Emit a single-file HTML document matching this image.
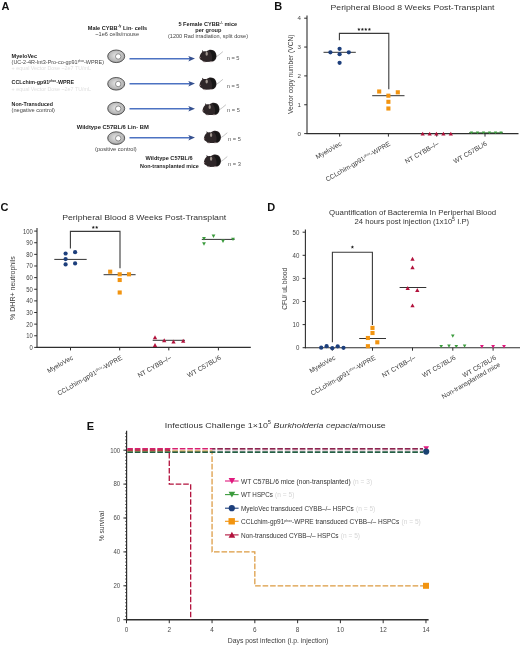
<!DOCTYPE html><html><head><meta charset="utf-8"><title>Figure</title><style>html,body{margin:0;padding:0;background:#fff;width:520px;height:646px;overflow:hidden}svg{display:block;will-change:transform}text{font-family:"Liberation Sans",sans-serif}</style></head><body>
<svg width="520" height="646" viewBox="0 0 520 646">
<rect width="520" height="646" fill="#fff"/>
<defs>
<radialGradient id="cellg" cx="0.5" cy="0.45" r="0.6">
<stop offset="0" stop-color="#e8e8e8"/><stop offset="0.7" stop-color="#b8b8b8"/><stop offset="1" stop-color="#8a8a8a"/>
</radialGradient>

</defs>
<text x="1.50" y="9.80" font-size="11" text-anchor="start" font-weight="bold" fill="#111" >A</text>
<text x="117.50" y="29.50" font-size="5.6" text-anchor="middle" font-weight="bold" fill="#222" >Male CYBB<tspan font-size="3.2" dy="-2.2">-/y</tspan><tspan dy="2.2"> Lin- cells</tspan></text>
<text x="117.20" y="35.60" font-size="5.6" text-anchor="middle" fill="#444" >~1e6 cells/mouse</text>
<text x="207.80" y="26.10" font-size="5.6" text-anchor="middle" font-weight="bold" fill="#222" >5 Female CYBB<tspan font-size="3.2" dy="-2.2">-/-</tspan><tspan dy="2.2"> mice</tspan></text>
<text x="208.40" y="31.60" font-size="5.6" text-anchor="middle" font-weight="bold" fill="#222" >per group</text>
<text x="208.00" y="38.40" font-size="5.6" text-anchor="middle" fill="#444" textLength="80" lengthAdjust="spacingAndGlyphs" >(1200 Rad irradiation, split dose)</text>
<text x="11.60" y="57.60" font-size="5.6" text-anchor="start" font-weight="bold" fill="#222" textLength="25.4" lengthAdjust="spacingAndGlyphs" >MyeloVec</text>
<text x="11.60" y="63.60" font-size="5.6" text-anchor="start" fill="#444" textLength="92.4" lengthAdjust="spacingAndGlyphs" >(UC-2-4R-Int3-Pro-co-gp91<tspan font-size="3" dy="-2">phox</tspan><tspan dy="2">-WPRE)</tspan></text>
<text x="11.60" y="70.20" font-size="5.6" text-anchor="start" fill="#e0e0e0" textLength="79.4" lengthAdjust="spacingAndGlyphs" >+ equal Vector Dose ~2e7 TU/mL</text>
<text x="11.60" y="84.40" font-size="5.6" text-anchor="start" font-weight="bold" fill="#222" textLength="62.4" lengthAdjust="spacingAndGlyphs" >CCLchim-gp91<tspan font-size="3" dy="-2">phox</tspan><tspan dy="2">-WPRE</tspan></text>
<text x="11.60" y="90.90" font-size="5.6" text-anchor="start" fill="#e0e0e0" textLength="79.4" lengthAdjust="spacingAndGlyphs" >+ equal Vector Dose ~2e7 TU/mL</text>
<text x="11.60" y="106.20" font-size="5.6" text-anchor="start" font-weight="bold" fill="#222" textLength="41.4" lengthAdjust="spacingAndGlyphs" >Non-Transduced</text>
<text x="11.60" y="112.20" font-size="5.6" text-anchor="start" fill="#444" textLength="43.4" lengthAdjust="spacingAndGlyphs" >(negative control)</text>
<text x="76.70" y="129.10" font-size="5.6" text-anchor="start" font-weight="bold" fill="#222" textLength="72.1" lengthAdjust="spacingAndGlyphs" >Wildtype C57BL/6 Lin- BM</text>
<text x="95.00" y="150.90" font-size="5.6" text-anchor="start" fill="#444" textLength="41.7" lengthAdjust="spacingAndGlyphs" >(positive control)</text>
<text x="145.60" y="160.40" font-size="5.6" text-anchor="start" font-weight="bold" fill="#222" textLength="47.1" lengthAdjust="spacingAndGlyphs" >Wildtype C57BL/6</text>
<text x="140.00" y="167.60" font-size="5.6" text-anchor="start" font-weight="bold" fill="#222" textLength="58.7" lengthAdjust="spacingAndGlyphs" >Non-transplanted mice</text>
<ellipse cx="116.2" cy="56.3" rx="8.5" ry="6.3" fill="url(#cellg)" stroke="#4a4a4a" stroke-width="0.9"/>
<circle cx="118.2" cy="56.5" r="2.7" fill="#fff" stroke="#666" stroke-width="0.7"/>
<line x1="129.50" y1="58.70" x2="190.00" y2="58.70" stroke="#4d72c2" stroke-width="1.5" />
<polygon points="188.3,55.90 195.0,58.60 188.3,61.50 189.8,58.70" fill="#35508f"/>
<ellipse cx="116.2" cy="83.8" rx="8.5" ry="6.3" fill="url(#cellg)" stroke="#4a4a4a" stroke-width="0.9"/>
<circle cx="118.2" cy="84.0" r="2.7" fill="#fff" stroke="#666" stroke-width="0.7"/>
<line x1="129.50" y1="83.70" x2="190.00" y2="83.70" stroke="#4d72c2" stroke-width="1.5" />
<polygon points="188.3,80.90 195.0,83.60 188.3,86.50 189.8,83.70" fill="#35508f"/>
<ellipse cx="116.2" cy="108.5" rx="8.5" ry="6.3" fill="url(#cellg)" stroke="#4a4a4a" stroke-width="0.9"/>
<circle cx="118.2" cy="108.7" r="2.7" fill="#fff" stroke="#666" stroke-width="0.7"/>
<line x1="129.50" y1="108.80" x2="190.00" y2="108.80" stroke="#4d72c2" stroke-width="1.5" />
<polygon points="188.3,106.00 195.0,108.70 188.3,111.60 189.8,108.80" fill="#35508f"/>
<ellipse cx="116.2" cy="138.1" rx="8.5" ry="6.3" fill="url(#cellg)" stroke="#4a4a4a" stroke-width="0.9"/>
<circle cx="118.2" cy="138.29999999999998" r="2.7" fill="#fff" stroke="#666" stroke-width="0.7"/>
<line x1="129.50" y1="137.70" x2="190.00" y2="137.70" stroke="#4d72c2" stroke-width="1.5" />
<polygon points="188.3,134.90 195.0,137.60 188.3,140.50 189.8,137.70" fill="#35508f"/>
<g transform="translate(199.0,49.5)">
<path d="M16.8,7.6 C19,6.2 21.4,4.4 23.6,2.4" stroke="#c4c4c4" stroke-width="1" fill="none" stroke-linecap="round"/>
<path d="M0.5,8 C0.7,5.8 1.9,3.4 3.3,2.4 L3.0,0.6 L4.7,1.9 C5.6,1.6 6.6,1.6 7.4,1.9 C8.6,0.7 10.2,0.2 11.8,0.2 C15.2,0.2 17.5,3 17.5,6.6 C17.5,9.8 15.6,12 12.6,12.3 L5.6,12.5 C4.4,12.5 3.6,11.8 3.2,11.1 C1.8,10.5 0.5,9.6 0.5,8 Z" fill="#2e2628"/>
<path d="M10,1.0 C13.5,0 17,2.6 17,6.6 C17,9.6 15.2,11.5 12.6,11.8 C13.8,8.6 13.4,4.2 10,1.0 Z" fill="#171616"/>
<ellipse cx="7.7" cy="4.3" rx="1.15" ry="2.0" fill="#a0968f"/>
<ellipse cx="1.1" cy="8.2" rx="0.7" ry="0.6" fill="#9a8080"/>
<path d="M4.4,12.3 L6.6,12.6 M10.8,12.4 L13.2,12.2" stroke="#c8b8b8" stroke-width="0.7"/>
</g>
<text x="226.70" y="60.40" font-size="5.6" text-anchor="start" fill="#555" textLength="12.8" lengthAdjust="spacingAndGlyphs" >n = 5</text>
<g transform="translate(199.0,77.2)">
<path d="M16.8,7.6 C19,6.2 21.4,4.4 23.6,2.4" stroke="#c4c4c4" stroke-width="1" fill="none" stroke-linecap="round"/>
<path d="M0.5,8 C0.7,5.8 1.9,3.4 3.3,2.4 L3.0,0.6 L4.7,1.9 C5.6,1.6 6.6,1.6 7.4,1.9 C8.6,0.7 10.2,0.2 11.8,0.2 C15.2,0.2 17.5,3 17.5,6.6 C17.5,9.8 15.6,12 12.6,12.3 L5.6,12.5 C4.4,12.5 3.6,11.8 3.2,11.1 C1.8,10.5 0.5,9.6 0.5,8 Z" fill="#2e2628"/>
<path d="M10,1.0 C13.5,0 17,2.6 17,6.6 C17,9.6 15.2,11.5 12.6,11.8 C13.8,8.6 13.4,4.2 10,1.0 Z" fill="#171616"/>
<ellipse cx="7.7" cy="4.3" rx="1.15" ry="2.0" fill="#a0968f"/>
<ellipse cx="1.1" cy="8.2" rx="0.7" ry="0.6" fill="#9a8080"/>
<path d="M4.4,12.3 L6.6,12.6 M10.8,12.4 L13.2,12.2" stroke="#c8b8b8" stroke-width="0.7"/>
</g>
<text x="226.70" y="88.10" font-size="5.6" text-anchor="start" fill="#555" textLength="12.8" lengthAdjust="spacingAndGlyphs" >n = 5</text>
<g transform="translate(202.0,102.6)">
<path d="M16.8,7.6 C19,6.2 21.4,4.4 23.6,2.4" stroke="#c4c4c4" stroke-width="1" fill="none" stroke-linecap="round"/>
<path d="M0.5,8 C0.7,5.8 1.9,3.4 3.3,2.4 L3.0,0.6 L4.7,1.9 C5.6,1.6 6.6,1.6 7.4,1.9 C8.6,0.7 10.2,0.2 11.8,0.2 C15.2,0.2 17.5,3 17.5,6.6 C17.5,9.8 15.6,12 12.6,12.3 L5.6,12.5 C4.4,12.5 3.6,11.8 3.2,11.1 C1.8,10.5 0.5,9.6 0.5,8 Z" fill="#2e2628"/>
<path d="M10,1.0 C13.5,0 17,2.6 17,6.6 C17,9.6 15.2,11.5 12.6,11.8 C13.8,8.6 13.4,4.2 10,1.0 Z" fill="#171616"/>
<ellipse cx="7.7" cy="4.3" rx="1.15" ry="2.0" fill="#a0968f"/>
<ellipse cx="1.1" cy="8.2" rx="0.7" ry="0.6" fill="#9a8080"/>
<path d="M4.4,12.3 L6.6,12.6 M10.8,12.4 L13.2,12.2" stroke="#c8b8b8" stroke-width="0.7"/>
</g>
<text x="227.00" y="112.40" font-size="5.6" text-anchor="start" fill="#555" textLength="12.8" lengthAdjust="spacingAndGlyphs" >n = 5</text>
<g transform="translate(203.4,130.6)">
<path d="M16.8,7.6 C19,6.2 21.4,4.4 23.6,2.4" stroke="#c4c4c4" stroke-width="1" fill="none" stroke-linecap="round"/>
<path d="M0.5,8 C0.7,5.8 1.9,3.4 3.3,2.4 L3.0,0.6 L4.7,1.9 C5.6,1.6 6.6,1.6 7.4,1.9 C8.6,0.7 10.2,0.2 11.8,0.2 C15.2,0.2 17.5,3 17.5,6.6 C17.5,9.8 15.6,12 12.6,12.3 L5.6,12.5 C4.4,12.5 3.6,11.8 3.2,11.1 C1.8,10.5 0.5,9.6 0.5,8 Z" fill="#2e2628"/>
<path d="M10,1.0 C13.5,0 17,2.6 17,6.6 C17,9.6 15.2,11.5 12.6,11.8 C13.8,8.6 13.4,4.2 10,1.0 Z" fill="#171616"/>
<ellipse cx="7.7" cy="4.3" rx="1.15" ry="2.0" fill="#a0968f"/>
<ellipse cx="1.1" cy="8.2" rx="0.7" ry="0.6" fill="#9a8080"/>
<path d="M4.4,12.3 L6.6,12.6 M10.8,12.4 L13.2,12.2" stroke="#c8b8b8" stroke-width="0.7"/>
</g>
<text x="228.00" y="140.90" font-size="5.6" text-anchor="start" fill="#555" textLength="12.8" lengthAdjust="spacingAndGlyphs" >n = 5</text>
<g transform="translate(203.4,154.4)">
<path d="M16.8,7.6 C19,6.2 21.4,4.4 23.6,2.4" stroke="#c4c4c4" stroke-width="1" fill="none" stroke-linecap="round"/>
<path d="M0.5,8 C0.7,5.8 1.9,3.4 3.3,2.4 L3.0,0.6 L4.7,1.9 C5.6,1.6 6.6,1.6 7.4,1.9 C8.6,0.7 10.2,0.2 11.8,0.2 C15.2,0.2 17.5,3 17.5,6.6 C17.5,9.8 15.6,12 12.6,12.3 L5.6,12.5 C4.4,12.5 3.6,11.8 3.2,11.1 C1.8,10.5 0.5,9.6 0.5,8 Z" fill="#2e2628"/>
<path d="M10,1.0 C13.5,0 17,2.6 17,6.6 C17,9.6 15.2,11.5 12.6,11.8 C13.8,8.6 13.4,4.2 10,1.0 Z" fill="#171616"/>
<ellipse cx="7.7" cy="4.3" rx="1.15" ry="2.0" fill="#a0968f"/>
<ellipse cx="1.1" cy="8.2" rx="0.7" ry="0.6" fill="#9a8080"/>
<path d="M4.4,12.3 L6.6,12.6 M10.8,12.4 L13.2,12.2" stroke="#c8b8b8" stroke-width="0.7"/>
</g>
<text x="228.00" y="165.70" font-size="5.6" text-anchor="start" fill="#555" textLength="12.8" lengthAdjust="spacingAndGlyphs" >n = 3</text>
<text x="274.20" y="10.20" font-size="11" text-anchor="start" font-weight="bold" fill="#111" >B</text>
<text x="412.50" y="10.30" font-size="8" text-anchor="middle" fill="#333" textLength="164" lengthAdjust="spacingAndGlyphs" >Peripheral Blood 8 Weeks Post-Transplant</text>
<line x1="307.00" y1="15.40" x2="307.00" y2="134.10" stroke="#2e2e2e" stroke-width="1.1" />
<line x1="304.20" y1="133.60" x2="307.00" y2="133.60" stroke="#2e2e2e" stroke-width="1" />
<text x="300.90" y="135.80" font-size="6.2" text-anchor="end" fill="#4a4a4a" >0</text>
<line x1="304.20" y1="104.75" x2="307.00" y2="104.75" stroke="#2e2e2e" stroke-width="1" />
<text x="300.90" y="106.95" font-size="6.2" text-anchor="end" fill="#4a4a4a" >1</text>
<line x1="304.20" y1="75.90" x2="307.00" y2="75.90" stroke="#2e2e2e" stroke-width="1" />
<text x="300.90" y="78.10" font-size="6.2" text-anchor="end" fill="#4a4a4a" >2</text>
<line x1="304.20" y1="47.05" x2="307.00" y2="47.05" stroke="#2e2e2e" stroke-width="1" />
<text x="300.90" y="49.25" font-size="6.2" text-anchor="end" fill="#4a4a4a" >3</text>
<line x1="304.20" y1="18.20" x2="307.00" y2="18.20" stroke="#2e2e2e" stroke-width="1" />
<text x="300.90" y="20.40" font-size="6.2" text-anchor="end" fill="#4a4a4a" >4</text>
<line x1="306.50" y1="133.60" x2="518.50" y2="133.60" stroke="#2e2e2e" stroke-width="1.1" />
<line x1="339.60" y1="133.60" x2="339.60" y2="136.60" stroke="#2e2e2e" stroke-width="1" />
<line x1="388.40" y1="133.60" x2="388.40" y2="136.60" stroke="#2e2e2e" stroke-width="1" />
<line x1="436.70" y1="133.60" x2="436.70" y2="136.60" stroke="#2e2e2e" stroke-width="1" />
<line x1="485.00" y1="133.60" x2="485.00" y2="136.60" stroke="#2e2e2e" stroke-width="1" />
<text x="0" y="0" font-size="7.6" text-anchor="middle" fill="#3c3c3c" transform="translate(293.40,74.25) rotate(-90)" textLength="79.5" lengthAdjust="spacingAndGlyphs">Vector copy number (VCN)</text>
<path d="M339.4,40.2 V33.4 H388.8 V89.2" fill="none" stroke="#3a3a3a" stroke-width="1.1"/>
<polygon points="358.90,27.70 359.35,28.78 360.52,28.87 359.63,29.64 359.90,30.78 358.90,30.16 357.90,30.78 358.17,29.64 357.28,28.87 358.45,28.78" fill="#222"/>
<polygon points="362.40,27.70 362.85,28.78 364.02,28.87 363.13,29.64 363.40,30.78 362.40,30.16 361.40,30.78 361.67,29.64 360.78,28.87 361.95,28.78" fill="#222"/>
<polygon points="365.80,27.70 366.25,28.78 367.42,28.87 366.53,29.64 366.80,30.78 365.80,30.16 364.80,30.78 365.07,29.64 364.18,28.87 365.35,28.78" fill="#222"/>
<polygon points="369.40,27.70 369.85,28.78 371.02,28.87 370.13,29.64 370.40,30.78 369.40,30.16 368.40,30.78 368.67,29.64 367.78,28.87 368.95,28.78" fill="#222"/>
<line x1="323.50" y1="52.30" x2="355.80" y2="52.30" stroke="#333" stroke-width="1" />
<circle cx="330.40" cy="52.30" r="2.1" fill="#1d3f7c"/>
<circle cx="339.60" cy="48.80" r="2.1" fill="#1d3f7c"/>
<circle cx="339.60" cy="54.20" r="2.1" fill="#1d3f7c"/>
<circle cx="348.80" cy="52.30" r="2.1" fill="#1d3f7c"/>
<circle cx="339.60" cy="62.80" r="2.1" fill="#1d3f7c"/>
<line x1="372.20" y1="95.70" x2="404.50" y2="95.70" stroke="#333" stroke-width="1" />
<rect x="377.15" y="89.45" width="4.1" height="4.1" fill="#f29410"/>
<rect x="395.75" y="90.25" width="4.1" height="4.1" fill="#f29410"/>
<rect x="386.35" y="93.65" width="4.1" height="4.1" fill="#f29410"/>
<rect x="386.35" y="99.75" width="4.1" height="4.1" fill="#f29410"/>
<rect x="386.35" y="106.45" width="4.1" height="4.1" fill="#f29410"/>
<polygon points="420.60,135.49 424.80,135.49 422.70,131.71" fill="#b2123c"/>
<polygon points="427.60,135.49 431.80,135.49 429.70,131.71" fill="#b2123c"/>
<polygon points="434.30,135.49 438.50,135.49 436.40,131.71" fill="#b2123c"/>
<polygon points="441.30,135.49 445.50,135.49 443.40,131.71" fill="#b2123c"/>
<polygon points="448.70,135.49 452.90,135.49 450.80,131.71" fill="#b2123c"/>
<line x1="469.00" y1="132.60" x2="503.00" y2="132.60" stroke="#3a7a3a" stroke-width="0.8" />
<polygon points="469.90,131.46 473.10,131.46 471.50,134.34" fill="#3b9b3d"/>
<polygon points="475.90,131.46 479.10,131.46 477.50,134.34" fill="#3b9b3d"/>
<polygon points="481.90,131.46 485.10,131.46 483.50,134.34" fill="#3b9b3d"/>
<polygon points="487.90,131.46 491.10,131.46 489.50,134.34" fill="#3b9b3d"/>
<polygon points="493.90,131.46 497.10,131.46 495.50,134.34" fill="#3b9b3d"/>
<polygon points="499.40,131.46 502.60,131.46 501.00,134.34" fill="#3b9b3d"/>
<text x="0" y="0" font-size="6.6" text-anchor="end" fill="#3a3a3a" transform="translate(342.10,145.00) rotate(-30)">MyeloVec</text>
<text x="0" y="0" font-size="6.6" text-anchor="end" fill="#3a3a3a" transform="translate(390.90,145.00) rotate(-30)">CCLchim-gp91<tspan font-size="3.5" dy="-2.3">phox</tspan><tspan dy="2.3">-WPRE</tspan></text>
<text x="0" y="0" font-size="6.6" text-anchor="end" fill="#3a3a3a" transform="translate(439.20,145.00) rotate(-30)">NT CYBB&#8211;/&#8211;</text>
<text x="0" y="0" font-size="6.6" text-anchor="end" fill="#3a3a3a" transform="translate(487.50,145.00) rotate(-30)">WT C57BL/6</text>
<text x="0.40" y="211.30" font-size="11" text-anchor="start" font-weight="bold" fill="#111" >C</text>
<text x="144.20" y="219.60" font-size="8" text-anchor="middle" fill="#333" textLength="164" lengthAdjust="spacingAndGlyphs" >Peripheral Blood 8 Weeks Post-Transplant</text>
<line x1="37.00" y1="228.00" x2="37.00" y2="347.90" stroke="#2e2e2e" stroke-width="1.1" />
<line x1="34.20" y1="347.40" x2="37.00" y2="347.40" stroke="#2e2e2e" stroke-width="1" />
<text x="32.80" y="349.80" font-size="6.6" text-anchor="end" fill="#444" textLength="3.27" lengthAdjust="spacingAndGlyphs" >0</text>
<line x1="34.20" y1="335.77" x2="37.00" y2="335.77" stroke="#2e2e2e" stroke-width="1" />
<text x="32.80" y="338.17" font-size="6.6" text-anchor="end" fill="#444" textLength="6.54" lengthAdjust="spacingAndGlyphs" >10</text>
<line x1="34.20" y1="324.14" x2="37.00" y2="324.14" stroke="#2e2e2e" stroke-width="1" />
<text x="32.80" y="326.54" font-size="6.6" text-anchor="end" fill="#444" textLength="6.54" lengthAdjust="spacingAndGlyphs" >20</text>
<line x1="34.20" y1="312.51" x2="37.00" y2="312.51" stroke="#2e2e2e" stroke-width="1" />
<text x="32.80" y="314.91" font-size="6.6" text-anchor="end" fill="#444" textLength="6.54" lengthAdjust="spacingAndGlyphs" >30</text>
<line x1="34.20" y1="300.88" x2="37.00" y2="300.88" stroke="#2e2e2e" stroke-width="1" />
<text x="32.80" y="303.28" font-size="6.6" text-anchor="end" fill="#444" textLength="6.54" lengthAdjust="spacingAndGlyphs" >40</text>
<line x1="34.20" y1="289.25" x2="37.00" y2="289.25" stroke="#2e2e2e" stroke-width="1" />
<text x="32.80" y="291.65" font-size="6.6" text-anchor="end" fill="#444" textLength="6.54" lengthAdjust="spacingAndGlyphs" >50</text>
<line x1="34.20" y1="277.62" x2="37.00" y2="277.62" stroke="#2e2e2e" stroke-width="1" />
<text x="32.80" y="280.02" font-size="6.6" text-anchor="end" fill="#444" textLength="6.54" lengthAdjust="spacingAndGlyphs" >60</text>
<line x1="34.20" y1="265.99" x2="37.00" y2="265.99" stroke="#2e2e2e" stroke-width="1" />
<text x="32.80" y="268.39" font-size="6.6" text-anchor="end" fill="#444" textLength="6.54" lengthAdjust="spacingAndGlyphs" >70</text>
<line x1="34.20" y1="254.36" x2="37.00" y2="254.36" stroke="#2e2e2e" stroke-width="1" />
<text x="32.80" y="256.76" font-size="6.6" text-anchor="end" fill="#444" textLength="6.54" lengthAdjust="spacingAndGlyphs" >80</text>
<line x1="34.20" y1="242.73" x2="37.00" y2="242.73" stroke="#2e2e2e" stroke-width="1" />
<text x="32.80" y="245.13" font-size="6.6" text-anchor="end" fill="#444" textLength="6.54" lengthAdjust="spacingAndGlyphs" >90</text>
<line x1="34.20" y1="231.10" x2="37.00" y2="231.10" stroke="#2e2e2e" stroke-width="1" />
<text x="32.80" y="233.50" font-size="6.6" text-anchor="end" fill="#444" textLength="9.81" lengthAdjust="spacingAndGlyphs" >100</text>
<line x1="36.50" y1="347.40" x2="250.80" y2="347.40" stroke="#2e2e2e" stroke-width="1.1" />
<line x1="70.50" y1="347.40" x2="70.50" y2="350.40" stroke="#2e2e2e" stroke-width="1" />
<line x1="119.70" y1="347.40" x2="119.70" y2="350.40" stroke="#2e2e2e" stroke-width="1" />
<line x1="168.80" y1="347.40" x2="168.80" y2="350.40" stroke="#2e2e2e" stroke-width="1" />
<line x1="218.40" y1="347.40" x2="218.40" y2="350.40" stroke="#2e2e2e" stroke-width="1" />
<text x="0" y="0" font-size="7.6" text-anchor="middle" fill="#3c3c3c" transform="translate(14.80,288.05) rotate(-90)" textLength="63.8" lengthAdjust="spacingAndGlyphs">% DHR+ neutrophils</text>
<path d="M70.4,248.4 V231.4 H120 V268.3" fill="none" stroke="#3a3a3a" stroke-width="1.1"/>
<polygon points="93.30,225.70 93.75,226.78 94.92,226.87 94.03,227.64 94.30,228.78 93.30,228.16 92.30,228.78 92.57,227.64 91.68,226.87 92.85,226.78" fill="#222"/>
<polygon points="96.70,225.70 97.15,226.78 98.32,226.87 97.43,227.64 97.70,228.78 96.70,228.16 95.70,228.78 95.97,227.64 95.08,226.87 96.25,226.78" fill="#222"/>
<line x1="54.30" y1="259.40" x2="86.70" y2="259.40" stroke="#333" stroke-width="1" />
<circle cx="65.60" cy="253.50" r="2.1" fill="#1d3f7c"/>
<circle cx="75.10" cy="252.20" r="2.1" fill="#1d3f7c"/>
<circle cx="65.60" cy="259.10" r="2.1" fill="#1d3f7c"/>
<circle cx="65.60" cy="264.40" r="2.1" fill="#1d3f7c"/>
<circle cx="75.10" cy="263.40" r="2.1" fill="#1d3f7c"/>
<line x1="103.60" y1="274.70" x2="135.60" y2="274.70" stroke="#333" stroke-width="1" />
<rect x="108.15" y="269.65" width="4.1" height="4.1" fill="#f29410"/>
<rect x="117.65" y="272.25" width="4.1" height="4.1" fill="#f29410"/>
<rect x="126.95" y="272.25" width="4.1" height="4.1" fill="#f29410"/>
<rect x="117.65" y="277.95" width="4.1" height="4.1" fill="#f29410"/>
<rect x="117.65" y="290.45" width="4.1" height="4.1" fill="#f29410"/>
<line x1="152.70" y1="340.30" x2="185.00" y2="340.30" stroke="#333" stroke-width="1" />
<polygon points="152.85,339.24 157.15,339.24 155.00,335.37" fill="#b2123c"/>
<polygon points="152.85,346.94 157.15,346.94 155.00,343.06" fill="#b2123c"/>
<polygon points="162.05,342.24 166.35,342.24 164.20,338.37" fill="#b2123c"/>
<polygon points="171.35,343.44 175.65,343.44 173.50,339.56" fill="#b2123c"/>
<polygon points="181.05,342.74 185.35,342.74 183.20,338.87" fill="#b2123c"/>
<line x1="201.80" y1="239.40" x2="234.60" y2="239.40" stroke="#333" stroke-width="1" />
<polygon points="202.10,237.09 205.90,237.09 204.00,240.51" fill="#3b9b3d"/>
<polygon points="211.60,234.49 215.40,234.49 213.50,237.91" fill="#3b9b3d"/>
<polygon points="202.10,242.29 205.90,242.29 204.00,245.71" fill="#3b9b3d"/>
<polygon points="221.10,239.59 224.90,239.59 223.00,243.01" fill="#3b9b3d"/>
<polygon points="231.10,237.69 234.90,237.69 233.00,241.11" fill="#3b9b3d"/>
<text x="0" y="0" font-size="6.6" text-anchor="end" fill="#3a3a3a" transform="translate(73.50,359.00) rotate(-30)">MyeloVec</text>
<text x="0" y="0" font-size="6.6" text-anchor="end" fill="#3a3a3a" transform="translate(122.70,359.00) rotate(-30)">CCLchim-gp91<tspan font-size="3.5" dy="-2.3">phox</tspan><tspan dy="2.3">-WPRE</tspan></text>
<text x="0" y="0" font-size="6.6" text-anchor="end" fill="#3a3a3a" transform="translate(171.80,359.00) rotate(-30)">NT CYBB&#8211;/&#8211;</text>
<text x="0" y="0" font-size="6.6" text-anchor="end" fill="#3a3a3a" transform="translate(221.40,359.00) rotate(-30)">WT C57BL/6</text>
<text x="267.30" y="211.30" font-size="11" text-anchor="start" font-weight="bold" fill="#111" >D</text>
<text x="412.60" y="215.00" font-size="7" text-anchor="middle" fill="#333" textLength="167" lengthAdjust="spacingAndGlyphs" >Quantification of Bacteremia In Periperhal Blood</text>
<text x="411.80" y="223.90" font-size="7" text-anchor="middle" fill="#333" textLength="114.5" lengthAdjust="spacingAndGlyphs" >24 hours post injection (1x10<tspan font-size="4.8" dy="-2.8">5</tspan><tspan dy="2.8"> I.P)</tspan></text>
<line x1="305.40" y1="229.60" x2="305.40" y2="348.20" stroke="#2e2e2e" stroke-width="1.1" />
<line x1="302.60" y1="347.70" x2="305.40" y2="347.70" stroke="#2e2e2e" stroke-width="1" />
<text x="299.40" y="350.10" font-size="6.6" text-anchor="end" fill="#444" textLength="3.4" lengthAdjust="spacingAndGlyphs" >0</text>
<line x1="302.60" y1="324.60" x2="305.40" y2="324.60" stroke="#2e2e2e" stroke-width="1" />
<text x="299.40" y="327.00" font-size="6.6" text-anchor="end" fill="#444" textLength="6.8" lengthAdjust="spacingAndGlyphs" >10</text>
<line x1="302.60" y1="301.50" x2="305.40" y2="301.50" stroke="#2e2e2e" stroke-width="1" />
<text x="299.40" y="303.90" font-size="6.6" text-anchor="end" fill="#444" textLength="6.8" lengthAdjust="spacingAndGlyphs" >20</text>
<line x1="302.60" y1="278.40" x2="305.40" y2="278.40" stroke="#2e2e2e" stroke-width="1" />
<text x="299.40" y="280.80" font-size="6.6" text-anchor="end" fill="#444" textLength="6.8" lengthAdjust="spacingAndGlyphs" >30</text>
<line x1="302.60" y1="255.30" x2="305.40" y2="255.30" stroke="#2e2e2e" stroke-width="1" />
<text x="299.40" y="257.70" font-size="6.6" text-anchor="end" fill="#444" textLength="6.8" lengthAdjust="spacingAndGlyphs" >40</text>
<line x1="302.60" y1="232.20" x2="305.40" y2="232.20" stroke="#2e2e2e" stroke-width="1" />
<text x="299.40" y="234.60" font-size="6.6" text-anchor="end" fill="#444" textLength="6.8" lengthAdjust="spacingAndGlyphs" >50</text>
<line x1="304.90" y1="347.70" x2="520.00" y2="347.70" stroke="#2e2e2e" stroke-width="1.1" />
<line x1="332.30" y1="347.70" x2="332.30" y2="350.70" stroke="#2e2e2e" stroke-width="1" />
<line x1="372.50" y1="347.70" x2="372.50" y2="350.70" stroke="#2e2e2e" stroke-width="1" />
<line x1="412.50" y1="347.70" x2="412.50" y2="350.70" stroke="#2e2e2e" stroke-width="1" />
<line x1="452.80" y1="347.70" x2="452.80" y2="350.70" stroke="#2e2e2e" stroke-width="1" />
<line x1="493.10" y1="347.70" x2="493.10" y2="350.70" stroke="#2e2e2e" stroke-width="1" />
<text x="0" y="0" font-size="7.6" text-anchor="middle" fill="#3c3c3c" transform="translate(286.60,288.85) rotate(-90)" textLength="42.0" lengthAdjust="spacingAndGlyphs">CFU/ uL blood</text>
<path d="M332.4,342.3 V252.3 H372.4 V325" fill="none" stroke="#3a3a3a" stroke-width="1.1"/>
<polygon points="352.40,245.30 352.88,246.44 354.11,246.54 353.17,247.35 353.46,248.56 352.40,247.91 351.34,248.56 351.63,247.35 350.69,246.54 351.92,246.44" fill="#222"/>
<circle cx="321.20" cy="347.70" r="2.1" fill="#1d3f7c"/>
<circle cx="326.60" cy="346.20" r="2.1" fill="#1d3f7c"/>
<circle cx="332.30" cy="348.20" r="2.1" fill="#1d3f7c"/>
<circle cx="337.70" cy="346.30" r="2.1" fill="#1d3f7c"/>
<circle cx="343.50" cy="347.80" r="2.1" fill="#1d3f7c"/>
<line x1="359.20" y1="338.50" x2="386.00" y2="338.50" stroke="#333" stroke-width="1" />
<rect x="370.45" y="325.85" width="4.1" height="4.1" fill="#f29410"/>
<rect x="370.45" y="330.95" width="4.1" height="4.1" fill="#f29410"/>
<rect x="365.85" y="335.95" width="4.1" height="4.1" fill="#f29410"/>
<rect x="375.25" y="340.25" width="4.1" height="4.1" fill="#f29410"/>
<rect x="365.85" y="344.15" width="4.1" height="4.1" fill="#f29410"/>
<line x1="399.60" y1="287.50" x2="426.30" y2="287.50" stroke="#333" stroke-width="1" />
<polygon points="410.35,260.63 414.65,260.63 412.50,256.76" fill="#b2123c"/>
<polygon points="410.35,269.24 414.65,269.24 412.50,265.37" fill="#b2123c"/>
<polygon points="405.55,289.94 409.85,289.94 407.70,286.06" fill="#b2123c"/>
<polygon points="415.15,291.94 419.45,291.94 417.30,288.06" fill="#b2123c"/>
<polygon points="410.35,307.33 414.65,307.33 412.50,303.46" fill="#b2123c"/>
<polygon points="451.00,334.48 454.60,334.48 452.80,337.72" fill="#3b9b3d"/>
<polygon points="439.40,344.98 443.00,344.98 441.20,348.22" fill="#3b9b3d"/>
<polygon points="447.20,344.58 450.80,344.58 449.00,347.82" fill="#3b9b3d"/>
<polygon points="454.50,344.98 458.10,344.98 456.30,348.22" fill="#3b9b3d"/>
<polygon points="462.80,344.58 466.40,344.58 464.60,347.82" fill="#3b9b3d"/>
<polygon points="480.00,345.09 483.80,345.09 481.90,348.51" fill="#e01a7e"/>
<polygon points="491.20,345.09 495.00,345.09 493.10,348.51" fill="#e01a7e"/>
<polygon points="502.10,345.09 505.90,345.09 504.00,348.51" fill="#e01a7e"/>
<text x="0" y="0" font-size="6.6" text-anchor="end" fill="#3a3a3a" transform="translate(335.80,359.00) rotate(-30)">MyeloVec</text>
<text x="0" y="0" font-size="6.6" text-anchor="end" fill="#3a3a3a" transform="translate(376.00,359.00) rotate(-30)">CCLchim-gp91<tspan font-size="3.5" dy="-2.3">phox</tspan><tspan dy="2.3">-WPRE</tspan></text>
<text x="0" y="0" font-size="6.6" text-anchor="end" fill="#3a3a3a" transform="translate(416.00,359.00) rotate(-30)">NT CYBB&#8211;/&#8211;</text>
<text x="0" y="0" font-size="6.6" text-anchor="end" fill="#3a3a3a" transform="translate(456.30,359.00) rotate(-30)">WT C57BL/6</text>
<text x="0" y="0" font-size="6.6" text-anchor="end" fill="#3a3a3a" transform="translate(496.60,359.00) rotate(-30)">WT C57BL/6</text>
<text x="0" y="0" font-size="6.6" text-anchor="end" fill="#3a3a3a" transform="translate(500.80,365.80) rotate(-30)">Non-transplanted mice</text>
<text x="86.70" y="429.80" font-size="11" text-anchor="start" font-weight="bold" fill="#111" >E</text>
<text x="164.80" y="427.60" font-size="8" text-anchor="start" fill="#333" textLength="221" lengthAdjust="spacingAndGlyphs" >Infectious Challenge 1&#215;10<tspan font-size="5.2" dy="-3.2">5</tspan><tspan dy="3.2"> </tspan><tspan font-style="italic">Burkholderia cepacia</tspan>/mouse</text>
<line x1="126.60" y1="430.80" x2="126.60" y2="620.40" stroke="#2e2e2e" stroke-width="1.2" />
<line x1="125.00" y1="619.70" x2="126.60" y2="619.70" stroke="#2e2e2e" stroke-width="0.7" />
<line x1="125.00" y1="616.31" x2="126.60" y2="616.31" stroke="#2e2e2e" stroke-width="0.7" />
<line x1="125.00" y1="612.92" x2="126.60" y2="612.92" stroke="#2e2e2e" stroke-width="0.7" />
<line x1="125.00" y1="609.53" x2="126.60" y2="609.53" stroke="#2e2e2e" stroke-width="0.7" />
<line x1="125.00" y1="606.14" x2="126.60" y2="606.14" stroke="#2e2e2e" stroke-width="0.7" />
<line x1="125.00" y1="602.75" x2="126.60" y2="602.75" stroke="#2e2e2e" stroke-width="0.7" />
<line x1="125.00" y1="599.36" x2="126.60" y2="599.36" stroke="#2e2e2e" stroke-width="0.7" />
<line x1="125.00" y1="595.97" x2="126.60" y2="595.97" stroke="#2e2e2e" stroke-width="0.7" />
<line x1="125.00" y1="592.58" x2="126.60" y2="592.58" stroke="#2e2e2e" stroke-width="0.7" />
<line x1="125.00" y1="589.19" x2="126.60" y2="589.19" stroke="#2e2e2e" stroke-width="0.7" />
<line x1="125.00" y1="585.80" x2="126.60" y2="585.80" stroke="#2e2e2e" stroke-width="0.7" />
<line x1="125.00" y1="582.41" x2="126.60" y2="582.41" stroke="#2e2e2e" stroke-width="0.7" />
<line x1="125.00" y1="579.02" x2="126.60" y2="579.02" stroke="#2e2e2e" stroke-width="0.7" />
<line x1="125.00" y1="575.63" x2="126.60" y2="575.63" stroke="#2e2e2e" stroke-width="0.7" />
<line x1="125.00" y1="572.24" x2="126.60" y2="572.24" stroke="#2e2e2e" stroke-width="0.7" />
<line x1="125.00" y1="568.85" x2="126.60" y2="568.85" stroke="#2e2e2e" stroke-width="0.7" />
<line x1="125.00" y1="565.46" x2="126.60" y2="565.46" stroke="#2e2e2e" stroke-width="0.7" />
<line x1="125.00" y1="562.07" x2="126.60" y2="562.07" stroke="#2e2e2e" stroke-width="0.7" />
<line x1="125.00" y1="558.68" x2="126.60" y2="558.68" stroke="#2e2e2e" stroke-width="0.7" />
<line x1="125.00" y1="555.29" x2="126.60" y2="555.29" stroke="#2e2e2e" stroke-width="0.7" />
<line x1="125.00" y1="551.90" x2="126.60" y2="551.90" stroke="#2e2e2e" stroke-width="0.7" />
<line x1="125.00" y1="548.51" x2="126.60" y2="548.51" stroke="#2e2e2e" stroke-width="0.7" />
<line x1="125.00" y1="545.12" x2="126.60" y2="545.12" stroke="#2e2e2e" stroke-width="0.7" />
<line x1="125.00" y1="541.73" x2="126.60" y2="541.73" stroke="#2e2e2e" stroke-width="0.7" />
<line x1="125.00" y1="538.34" x2="126.60" y2="538.34" stroke="#2e2e2e" stroke-width="0.7" />
<line x1="125.00" y1="534.95" x2="126.60" y2="534.95" stroke="#2e2e2e" stroke-width="0.7" />
<line x1="125.00" y1="531.56" x2="126.60" y2="531.56" stroke="#2e2e2e" stroke-width="0.7" />
<line x1="125.00" y1="528.17" x2="126.60" y2="528.17" stroke="#2e2e2e" stroke-width="0.7" />
<line x1="125.00" y1="524.78" x2="126.60" y2="524.78" stroke="#2e2e2e" stroke-width="0.7" />
<line x1="125.00" y1="521.39" x2="126.60" y2="521.39" stroke="#2e2e2e" stroke-width="0.7" />
<line x1="125.00" y1="518.00" x2="126.60" y2="518.00" stroke="#2e2e2e" stroke-width="0.7" />
<line x1="125.00" y1="514.61" x2="126.60" y2="514.61" stroke="#2e2e2e" stroke-width="0.7" />
<line x1="125.00" y1="511.22" x2="126.60" y2="511.22" stroke="#2e2e2e" stroke-width="0.7" />
<line x1="125.00" y1="507.83" x2="126.60" y2="507.83" stroke="#2e2e2e" stroke-width="0.7" />
<line x1="125.00" y1="504.44" x2="126.60" y2="504.44" stroke="#2e2e2e" stroke-width="0.7" />
<line x1="125.00" y1="501.05" x2="126.60" y2="501.05" stroke="#2e2e2e" stroke-width="0.7" />
<line x1="125.00" y1="497.66" x2="126.60" y2="497.66" stroke="#2e2e2e" stroke-width="0.7" />
<line x1="125.00" y1="494.27" x2="126.60" y2="494.27" stroke="#2e2e2e" stroke-width="0.7" />
<line x1="125.00" y1="490.88" x2="126.60" y2="490.88" stroke="#2e2e2e" stroke-width="0.7" />
<line x1="125.00" y1="487.49" x2="126.60" y2="487.49" stroke="#2e2e2e" stroke-width="0.7" />
<line x1="125.00" y1="484.10" x2="126.60" y2="484.10" stroke="#2e2e2e" stroke-width="0.7" />
<line x1="125.00" y1="480.71" x2="126.60" y2="480.71" stroke="#2e2e2e" stroke-width="0.7" />
<line x1="125.00" y1="477.32" x2="126.60" y2="477.32" stroke="#2e2e2e" stroke-width="0.7" />
<line x1="125.00" y1="473.93" x2="126.60" y2="473.93" stroke="#2e2e2e" stroke-width="0.7" />
<line x1="125.00" y1="470.54" x2="126.60" y2="470.54" stroke="#2e2e2e" stroke-width="0.7" />
<line x1="125.00" y1="467.15" x2="126.60" y2="467.15" stroke="#2e2e2e" stroke-width="0.7" />
<line x1="125.00" y1="463.76" x2="126.60" y2="463.76" stroke="#2e2e2e" stroke-width="0.7" />
<line x1="125.00" y1="460.37" x2="126.60" y2="460.37" stroke="#2e2e2e" stroke-width="0.7" />
<line x1="125.00" y1="456.98" x2="126.60" y2="456.98" stroke="#2e2e2e" stroke-width="0.7" />
<line x1="125.00" y1="453.59" x2="126.60" y2="453.59" stroke="#2e2e2e" stroke-width="0.7" />
<line x1="125.00" y1="450.20" x2="126.60" y2="450.20" stroke="#2e2e2e" stroke-width="0.7" />
<line x1="125.00" y1="446.81" x2="126.60" y2="446.81" stroke="#2e2e2e" stroke-width="0.7" />
<line x1="125.00" y1="443.42" x2="126.60" y2="443.42" stroke="#2e2e2e" stroke-width="0.7" />
<line x1="125.00" y1="440.03" x2="126.60" y2="440.03" stroke="#2e2e2e" stroke-width="0.7" />
<line x1="125.00" y1="436.64" x2="126.60" y2="436.64" stroke="#2e2e2e" stroke-width="0.7" />
<line x1="125.00" y1="433.25" x2="126.60" y2="433.25" stroke="#2e2e2e" stroke-width="0.7" />
<line x1="123.40" y1="619.70" x2="126.60" y2="619.70" stroke="#2e2e2e" stroke-width="1" />
<text x="120.20" y="622.00" font-size="6.4" text-anchor="end" fill="#4a4a4a" textLength="3.35" lengthAdjust="spacingAndGlyphs" >0</text>
<line x1="123.40" y1="585.80" x2="126.60" y2="585.80" stroke="#2e2e2e" stroke-width="1" />
<text x="120.20" y="588.10" font-size="6.4" text-anchor="end" fill="#4a4a4a" textLength="6.7" lengthAdjust="spacingAndGlyphs" >20</text>
<line x1="123.40" y1="551.90" x2="126.60" y2="551.90" stroke="#2e2e2e" stroke-width="1" />
<text x="120.20" y="554.20" font-size="6.4" text-anchor="end" fill="#4a4a4a" textLength="6.7" lengthAdjust="spacingAndGlyphs" >40</text>
<line x1="123.40" y1="518.00" x2="126.60" y2="518.00" stroke="#2e2e2e" stroke-width="1" />
<text x="120.20" y="520.30" font-size="6.4" text-anchor="end" fill="#4a4a4a" textLength="6.7" lengthAdjust="spacingAndGlyphs" >60</text>
<line x1="123.40" y1="484.10" x2="126.60" y2="484.10" stroke="#2e2e2e" stroke-width="1" />
<text x="120.20" y="486.40" font-size="6.4" text-anchor="end" fill="#4a4a4a" textLength="6.7" lengthAdjust="spacingAndGlyphs" >80</text>
<line x1="123.40" y1="450.20" x2="126.60" y2="450.20" stroke="#2e2e2e" stroke-width="1" />
<text x="120.20" y="452.50" font-size="6.4" text-anchor="end" fill="#4a4a4a" textLength="10.05" lengthAdjust="spacingAndGlyphs" >100</text>
<line x1="126.00" y1="619.70" x2="428.60" y2="619.70" stroke="#2e2e2e" stroke-width="1.5" />
<line x1="126.50" y1="619.70" x2="126.50" y2="623.20" stroke="#2e2e2e" stroke-width="1" />
<text x="126.50" y="631.70" font-size="6.4" text-anchor="middle" fill="#4a4a4a" >0</text>
<line x1="169.28" y1="619.70" x2="169.28" y2="623.20" stroke="#2e2e2e" stroke-width="1" />
<text x="169.28" y="631.70" font-size="6.4" text-anchor="middle" fill="#4a4a4a" >2</text>
<line x1="212.06" y1="619.70" x2="212.06" y2="623.20" stroke="#2e2e2e" stroke-width="1" />
<text x="212.06" y="631.70" font-size="6.4" text-anchor="middle" fill="#4a4a4a" >4</text>
<line x1="254.84" y1="619.70" x2="254.84" y2="623.20" stroke="#2e2e2e" stroke-width="1" />
<text x="254.84" y="631.70" font-size="6.4" text-anchor="middle" fill="#4a4a4a" >6</text>
<line x1="297.62" y1="619.70" x2="297.62" y2="623.20" stroke="#2e2e2e" stroke-width="1" />
<text x="297.62" y="631.70" font-size="6.4" text-anchor="middle" fill="#4a4a4a" >8</text>
<line x1="340.40" y1="619.70" x2="340.40" y2="623.20" stroke="#2e2e2e" stroke-width="1" />
<text x="340.40" y="631.70" font-size="6.4" text-anchor="middle" fill="#4a4a4a" >10</text>
<line x1="383.18" y1="619.70" x2="383.18" y2="623.20" stroke="#2e2e2e" stroke-width="1" />
<text x="383.18" y="631.70" font-size="6.4" text-anchor="middle" fill="#4a4a4a" >12</text>
<line x1="425.96" y1="619.70" x2="425.96" y2="623.20" stroke="#2e2e2e" stroke-width="1" />
<text x="425.96" y="631.70" font-size="6.4" text-anchor="middle" fill="#4a4a4a" >14</text>
<text x="278.00" y="643.20" font-size="7.6" text-anchor="middle" fill="#3c3c3c" textLength="100.5" lengthAdjust="spacingAndGlyphs" >Days post infection (i.p. injection)</text>
<text x="0" y="0" font-size="7.6" text-anchor="middle" fill="#3c3c3c" transform="translate(104.00,526.20) rotate(-90)" textLength="30.2" lengthAdjust="spacingAndGlyphs">% survival</text>
<path d="M127.3,451.10 H212.06 V551.90 H254.84 V585.80 H423.96" fill="none" stroke="#dc9a40" stroke-width="1.25" stroke-dasharray="5.6 1.9"/>
<path d="M127.3,452.10 H423" fill="none" stroke="#245e44" stroke-width="1.6" stroke-dasharray="5.6 1.9"/>
<path d="M127.3,451.00 H212.06" fill="none" stroke="#b8a050" stroke-width="0.7" stroke-dasharray="5.6 1.9" opacity="0.8"/>
<path d="M127.3,448.70 H212.06" fill="none" stroke="#d8206e" stroke-width="1.4" stroke-dasharray="5.6 1.9"/>
<path d="M212.06,448.90 H423" fill="none" stroke="#8e2450" stroke-width="1.6" stroke-dasharray="5.6 1.9" stroke-dashoffset="2.26"/>
<path d="M212.06,450.10 H423" fill="none" stroke="#c09aa8" stroke-width="0.8" stroke-dasharray="5.6 1.9" stroke-dashoffset="2.26"/>
<path d="M127.3,450.00 H169.28 V484.10 H190.67 V619.70" fill="none" stroke="#b2123c" stroke-width="1.3" stroke-dasharray="5.6 1.9"/>
<polygon points="423.40,446.18 429.00,446.18 426.20,451.22" fill="#e01a7e"/>
<circle cx="426.20" cy="451.60" r="3.1" fill="#1a4272"/>
<rect x="423.00" y="582.80" width="6.0" height="6.0" fill="#f29410"/>
<line x1="225.00" y1="481.00" x2="238.60" y2="481.00" stroke="#e01a7e" stroke-width="1.1" />
<polygon points="228.60,478.03 235.20,478.03 231.90,483.97" fill="#e01a7e"/>
<text x="241.00" y="483.70" font-size="6.6" text-anchor="start" fill="#333" textLength="109.7" lengthAdjust="spacingAndGlyphs" >WT C57BL/6 mice (non-transplanted)</text>
<text x="352.90" y="483.70" font-size="6.6" text-anchor="start" fill="#d6d6d6" >(n = 3)</text>
<line x1="225.00" y1="494.60" x2="238.60" y2="494.60" stroke="#3b9b3d" stroke-width="1.1" />
<polygon points="228.60,491.63 235.20,491.63 231.90,497.57" fill="#3b9b3d"/>
<text x="241.00" y="497.30" font-size="6.6" text-anchor="start" fill="#333" textLength="31.9" lengthAdjust="spacingAndGlyphs" >WT HSPCs</text>
<text x="275.10" y="497.30" font-size="6.6" text-anchor="start" fill="#d6d6d6" >(n = 5)</text>
<line x1="225.00" y1="508.20" x2="238.60" y2="508.20" stroke="#1d3f7c" stroke-width="1.1" />
<circle cx="231.80" cy="508.20" r="3.1" fill="#1d3f7c"/>
<text x="241.00" y="510.90" font-size="6.6" text-anchor="start" fill="#333" textLength="112.8" lengthAdjust="spacingAndGlyphs" >MyeloVec transduced CYBB&#8211;/&#8211; HSPCs</text>
<text x="356.00" y="510.90" font-size="6.6" text-anchor="start" fill="#d6d6d6" >(n = 5)</text>
<line x1="225.00" y1="521.30" x2="238.60" y2="521.30" stroke="#f29410" stroke-width="1.1" />
<rect x="228.50" y="518.10" width="6.4" height="6.4" fill="#f29410"/>
<text x="241.00" y="524.00" font-size="6.6" text-anchor="start" fill="#333" textLength="158.3" lengthAdjust="spacingAndGlyphs" >CCLchim-gp91<tspan font-size="3.6" dy="-2.4">phox</tspan><tspan dy="2.4">-WPRE transduced CYBB&#8211;/&#8211; HSPCs</tspan></text>
<text x="401.50" y="524.00" font-size="6.6" text-anchor="start" fill="#d6d6d6" >(n = 5)</text>
<line x1="225.00" y1="534.90" x2="238.60" y2="534.90" stroke="#b2123c" stroke-width="1.1" />
<polygon points="228.60,537.67 235.20,537.67 231.90,531.73" fill="#b2123c"/>
<text x="241.00" y="537.60" font-size="6.6" text-anchor="start" fill="#333" textLength="97.6" lengthAdjust="spacingAndGlyphs" >Non-transduced CYBB&#8211;/&#8211; HSPCs</text>
<text x="340.80" y="537.60" font-size="6.6" text-anchor="start" fill="#d6d6d6" >(n = 5)</text>
</svg></body></html>
